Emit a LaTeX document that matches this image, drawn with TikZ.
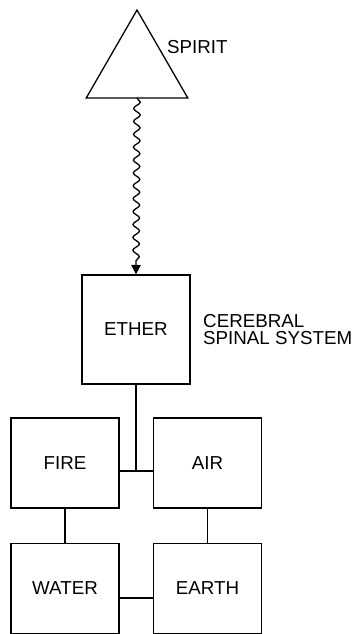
\documentclass[tikz,border=0pt]{standalone}
\usepackage{fontspec}
\setsansfont{Liberation Sans}
\usetikzlibrary{shapes.geometric,arrows.meta,decorations.pathmorphing}
\tikzstyle{elem} = [draw=black, line width=1.1pt, minimum width=3.24cm, inner sep=0pt, font={\sffamily\fontsize{16}{14.5}\selectfont}]
\tikzstyle{big} = [minimum height=3.27cm]
\tikzstyle{small} = [minimum height=2.7cm]
\tikzstyle{lbl} = [anchor=west, align=left, inner sep=0pt, font={\sffamily\fontsize{16}{14.5}\selectfont}]
\tikzstyle{link} = [line width=1.1pt]

\begin{document}
\begin{tikzpicture}[x=0.03cm,y=-0.03cm]
    \useasboundingbox (0,0) rectangle (361,634);
    \node[draw=black,line width=1.1pt,regular polygon,regular polygon sides=3,minimum size=3.52cm,inner sep=0pt,outer sep=0pt](spirit) at (137,68.7){};
    \node[lbl](spiritlbl) at (167,47){SPIRIT};
    \node[elem,big](ether) at (136,329.5){ETHER};
    \node[lbl](css) at (203,330){CEREBRAL\\SPINAL SYSTEM};
    \node[elem,small](fire) at (65,463){FIRE};
    \node[elem,small](air) at (207.5,463){AIR};
    \node[elem,small](water) at (65,588.5){WATER};
    \node[elem,small](earth) at (207.5,588.5){EARTH};
    \coordinate(cross) at (136,471);
    \coordinate(low) at (136,598);
    \draw[link,-{Triangle[width=8pt,length=8pt]},decorate,decoration={snake,amplitude=2.8pt,segment length=11pt,post length=9pt}](spirit.side 2)--(ether.north);
    \draw[link](ether)--(cross);
    \draw[link](fire.east|-cross)--(air.west|-cross);
    \draw[link](fire)--(water);
    \draw[link](air)--(earth);
    \draw[link](water.east|-low)--(earth.west|-low);
  \end{tikzpicture}
\end{document}
